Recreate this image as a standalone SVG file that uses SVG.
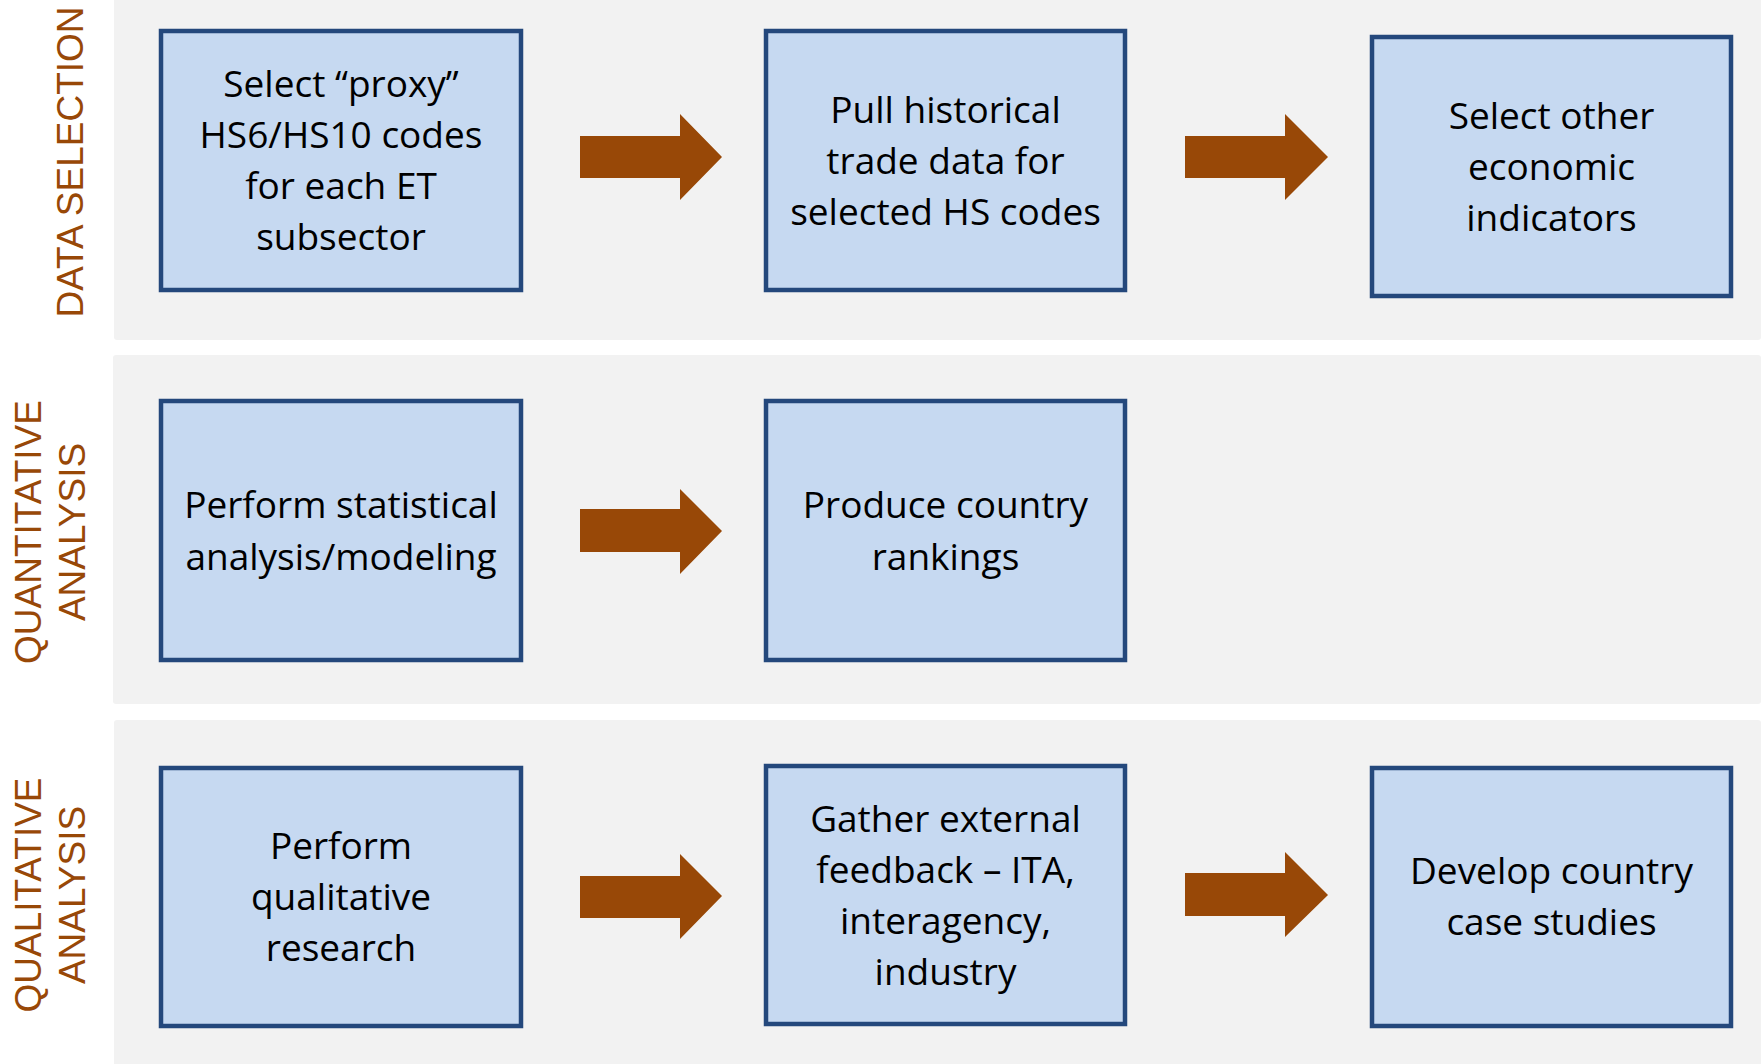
<svg xmlns="http://www.w3.org/2000/svg" width="1763" height="1064" viewBox="0 0 1763 1064">
<style>
.panel{fill:#F2F2F2}
.box{fill:#C6D9F1;stroke:#24487C;stroke-width:4.5}
.t{font-family:"Open Sans","Noto Sans",sans-serif;font-size:37px;fill:#000;text-anchor:middle}
.lab{font-family:"Liberation Sans",Arial,sans-serif;font-size:37px;fill:#984807;text-anchor:middle}
.arr{fill:#984807}
</style>
<rect width="1763" height="1064" fill="#FFFFFF"/>
<g id="panels">
<rect class="panel" x="114" y="-6" width="1647" height="346" rx="3"/>
<rect class="panel" x="113" y="355" width="1648" height="349" rx="3"/>
<rect class="panel" x="114" y="720" width="1647" height="350" rx="3"/>
</g>
<g id="labels">
<text class="lab" transform="translate(70,162) rotate(-90)" y="13">DATA SELECTION</text>
<text class="lab" transform="translate(49,532) rotate(-90)"><tspan x="0" y="-8">QUANTITATIVE</tspan><tspan x="0" y="36">ANALYSIS</tspan></text>
<text class="lab" transform="translate(49,895) rotate(-90)"><tspan x="0" y="-8">QUALITATIVE</tspan><tspan x="0" y="36">ANALYSIS</tspan></text>
</g>
<g id="connectors">
<polygon class="arr" points="580,136 680,136 680,114 722,157 680,200 680,178 580,178"/>
<polygon class="arr" points="1185,136 1285,136 1285,114 1328,157 1285,200 1285,178 1185,178"/>
<polygon class="arr" points="580,509 680,509 680,489 722,531 680,574 680,552 580,552"/>
<polygon class="arr" points="580,876 680,876 680,854 722,896 680,939 680,918 580,918"/>
<polygon class="arr" points="1185,873 1285,873 1285,852 1328,895 1285,937 1285,916 1185,916"/>
</g>
<g id="node1">
<rect class="box" x="161" y="31" width="360" height="259"/>
<text class="t"><tspan x="341" y="97">Select “proxy”</tspan><tspan x="341" y="148">HS6/HS10 codes</tspan><tspan x="341" y="199">for each ET</tspan><tspan x="341" y="250">subsector</tspan></text>
</g>
<g id="node2">
<rect class="box" x="766" y="31" width="359" height="259"/>
<text class="t"><tspan x="945.5" y="123">Pull historical</tspan><tspan x="945.5" y="174">trade data for</tspan><tspan x="945.5" y="225">selected HS codes</tspan></text>
</g>
<g id="node3">
<rect class="box" x="1372" y="37" width="359" height="259"/>
<text class="t"><tspan x="1551.5" y="129">Select other</tspan><tspan x="1551.5" y="180">economic</tspan><tspan x="1551.5" y="231">indicators</tspan></text>
</g>
<g id="node4">
<rect class="box" x="161" y="401" width="360" height="259"/>
<text class="t"><tspan x="341" y="518">Perform statistical</tspan><tspan x="341" y="570">analysis/modeling</tspan></text>
</g>
<g id="node5">
<rect class="box" x="766" y="401" width="359" height="259"/>
<text class="t"><tspan x="945.5" y="518">Produce country</tspan><tspan x="945.5" y="570">rankings</tspan></text>
</g>
<g id="node6">
<rect class="box" x="161" y="768" width="360" height="258"/>
<text class="t"><tspan x="341" y="859">Perform</tspan><tspan x="341" y="910">qualitative</tspan><tspan x="341" y="961">research</tspan></text>
</g>
<g id="node7">
<rect class="box" x="766" y="766" width="359" height="258"/>
<text class="t"><tspan x="945.5" y="832">Gather external</tspan><tspan x="945.5" y="883">feedback – ITA,</tspan><tspan x="945.5" y="934">interagency,</tspan><tspan x="945.5" y="985">industry</tspan></text>
</g>
<g id="node8">
<rect class="box" x="1372" y="768" width="359" height="258"/>
<text class="t"><tspan x="1551.5" y="884">Develop country</tspan><tspan x="1551.5" y="935">case studies</tspan></text>
</g>
</svg>
